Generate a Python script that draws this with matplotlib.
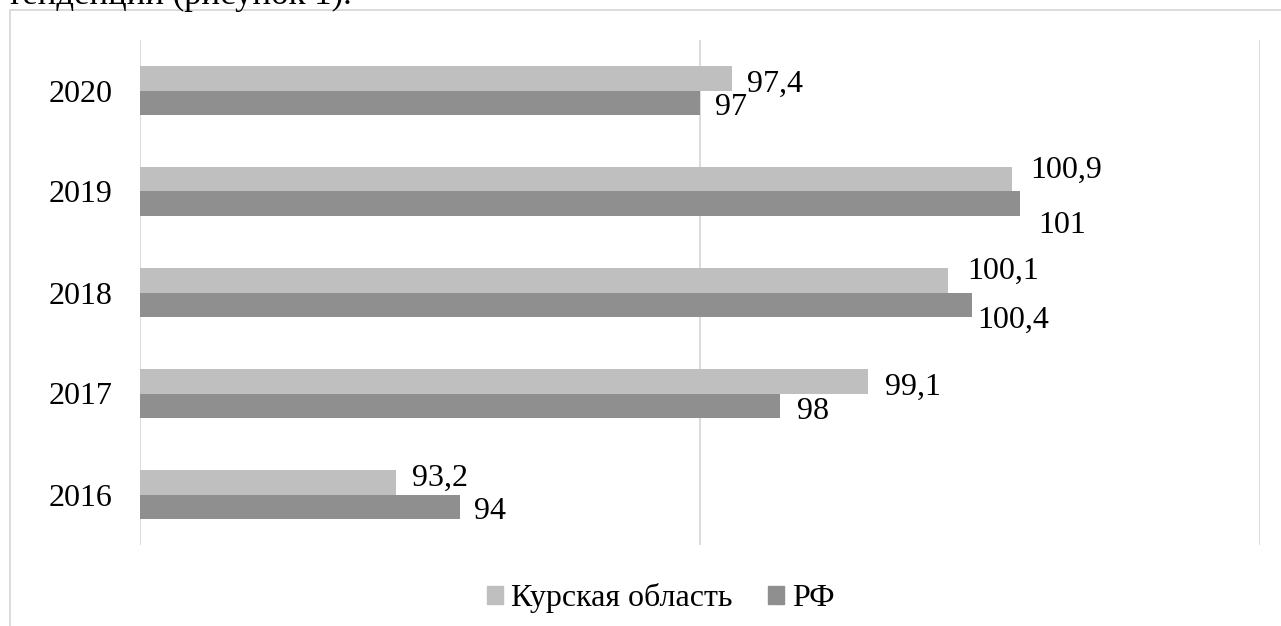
import matplotlib
matplotlib.use("Agg")
import matplotlib.pyplot as plt
from matplotlib.patches import Rectangle, Patch
import numpy as np

years = ["2016", "2017", "2018", "2019", "2020"]
kursk = [93.2, 99.1, 100.1, 100.9, 97.4]
rf = [94, 98, 100.4, 101, 97]
series_names = ["Курская область", "РФ"]
kursk_labels = ["93,2", "99,1", "100,1", "100,9", "97,4"]
rf_labels = ["94", "98", "100,4", "101", "97"]

# label offsets in pixels (dx right, dy down from bar centre)
kursk_off = [(16, -8), (17, 2), (19, -13), (18, -13), (15, 2)]
rf_off = [(14, 1), (17, 2), (5, 12), (18, 18), (15, 1)]

W, H = 1281, 626
plt.rcParams['font.family'] = ['Liberation Serif', 'DejaVu Serif']
fig = plt.figure(figsize=(W / 100, H / 100), dpi=100)

# outer chart frame (partially visible)
fig.patches.append(Rectangle((9.5 / W, -0.1), 1.2, 1 - 9.5 / H + 0.1,
                             transform=fig.transFigure, fill=False,
                             edgecolor="#D9D9D9", lw=1.3))
# cut-off document text at top
fig.text(352 / W, 1 - 4 / H, "тенденции (рисунок 1).", fontsize=25,
         va="baseline", ha="right", color="black")

ax = fig.add_axes([140 / W, (H - 545) / H, 1120 / W, 505 / H])
y = np.arange(len(years))
h = 0.238
c1, c2 = "#BFBFBF", "#8F8F8F"
ax.barh(y + h / 2, kursk, height=h, left=0, color=c1, zorder=2)
ax.barh(y - h / 2, rf, height=h, left=0, color=c2, zorder=2)
ax.set_xlim(90, 104)
ax.set_ylim(-0.5, len(years) - 0.5)
ax.set_xticks([90, 97, 104])
ax.xaxis.grid(True, color="#D9D9D9", lw=1.3, zorder=0)
ax.tick_params(axis="x", length=0, labelbottom=False)
ax.set_yticks(y)
ax.set_yticklabels(years, fontsize=23)
ax.tick_params(axis="y", length=0, pad=20)
for s in ax.spines.values():
    s.set_visible(False)

asc = 11  # half digit height in px
for i in range(len(years)):
    for val, lab, off, yy in ((kursk[i], kursk_labels[i], kursk_off[i], y[i] + h / 2),
                              (rf[i], rf_labels[i], rf_off[i], y[i] - h / 2)):
        ax.annotate(lab, (val, yy), xytext=(off[0], -off[1] - asc),
                    textcoords="offset pixels", ha="left", va="baseline",
                    fontsize=23, color="black")

handles = [Patch(color=c1), Patch(color=c2)]
fig.legend(handles, series_names, loc="center", bbox_to_anchor=(661 / W, (H - 598) / H),
           ncol=2, frameon=False, fontsize=23, handlelength=0.5, handleheight=0.5,
           handletextpad=0.25, columnspacing=1.1, borderpad=0)

fig.savefig("out.png", dpi=100)
